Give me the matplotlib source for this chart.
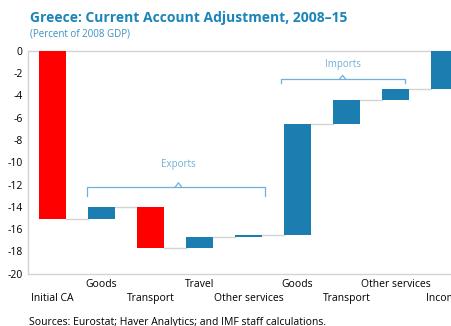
import matplotlib.pyplot as plt
import numpy as np

plt.rcParams['font.family'] = ['Open Sans', 'DejaVu Sans']

categories = ["Initial CA", "Goods", "Transport", "Travel", "Other services",
              "Goods", "Transport", "Other services", "Income"]
initial_ca = -15.1
changes = [1.1, -3.7, 1.0, 0.15, 10.0, 2.1, 1.05, 3.4]
y_ticks = [0, -2, -4, -6, -8, -10, -12, -14, -16, -18, -20]

red = "#ff0000"
blue = "#1b7db0"
brace_col = "#6fb0d8"
grid_col = "#d4d4d4"

steps = [initial_ca] + changes
ends = np.cumsum(steps)
starts = np.concatenate([[0], ends[:-1]])
colors = [red if s < 0 else blue for s in steps]

fig = plt.figure(figsize=(4.52, 3.26), dpi=100)
ax = fig.add_axes([0.062, 0.1604, 1.084, 0.6841])

x = np.arange(len(categories))
w = 0.57
ax.bar(x, ends - starts, bottom=starts, width=w, color=colors, zorder=3)

# connectors
for i in range(len(categories) - 1):
    ax.plot([x[i] + w / 2, x[i + 1] - w / 2], [ends[i], ends[i]],
            color=grid_col, lw=1.0, zorder=2)

def brace(x0, x1, xm, y, ydrop, ytip, label, ylab):
    ax.plot([x0, x0, x1, x1], [ydrop, y, y, ydrop], color=brace_col, lw=0.9,
            solid_joinstyle='round', zorder=4)
    ax.plot([xm - 0.06, xm, xm + 0.06], [y, ytip, y], color=brace_col, lw=0.9, zorder=4)
    ax.text(xm, ylab, label, ha='center', va='center', color=brace_col, fontsize=7)

brace(0.71, 4.33, 2.57, -12.2, -13.0, -11.85, "Exports", -10.25)
brace(4.67, 7.2, 5.92, -2.54, -2.93, -2.22, "Imports", -1.2)

ax.set_xlim(-0.5, 9.5)
ax.set_ylim(-20, 0)
ax.set_yticks(y_ticks)
ax.set_yticklabels([str(t) for t in y_ticks], fontsize=7.5)
ax.tick_params(axis='y', length=0, pad=4)
ax.set_xticks([])
for s in ['left', 'top', 'bottom']:
    ax.spines[s].set_color(grid_col)
    ax.spines[s].set_linewidth(1.0)
ax.spines['right'].set_visible(False)

for i, lab in enumerate(categories):
    yy = -21.0 if i % 2 else -22.2
    ax.text(x[i], yy, lab, ha='center', va='center', fontsize=7.5, color='black',
            clip_on=False)

fig.text(0.066, 0.945, "Greece: Current Account Adjustment, 2008\u201315",
         fontsize=10, fontweight='bold', color='#1b84b8', ha='left', va='center')
fig.text(0.066, 0.897, "(Percent of 2008 GDP)", fontsize=7, color='#3a90c0',
         ha='left', va='center')
fig.text(0.064, 0.012, "Sources: Eurostat; Haver Analytics; and IMF staff calculations.",
         fontsize=7.5, color='black', ha='left', va='center')

fig.savefig("out.png", dpi=100)
